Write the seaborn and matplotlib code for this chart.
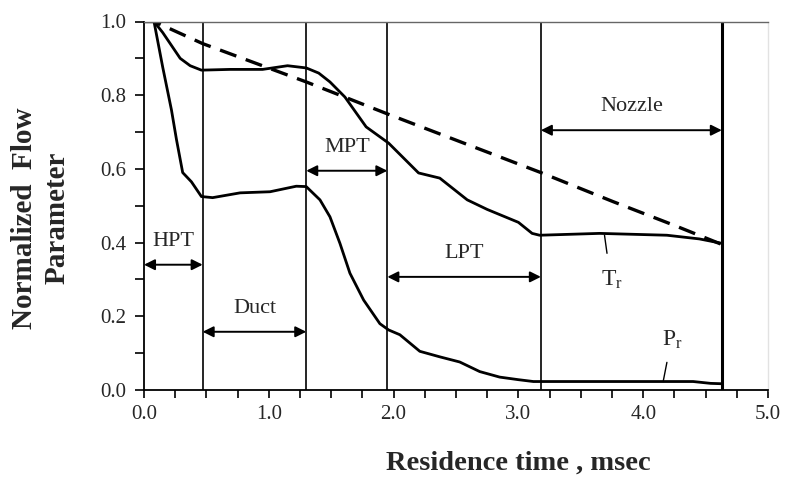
import matplotlib
matplotlib.use("Agg")
import matplotlib.pyplot as plt
import seaborn as sns
import numpy as np
import pandas as pd
from matplotlib.ticker import MultipleLocator, FormatStrFormatter

# ---------------- data ----------------
t_tr = [0.0, 0.08, 0.15, 0.21, 0.29, 0.37, 0.46, 0.69, 0.95, 1.15, 1.30, 1.40, 1.49,
        1.61, 1.78, 1.96, 2.20, 2.37, 2.59, 2.75, 3.00, 3.11, 3.17, 3.65, 4.19, 4.45, 4.63]
tr = [1.0, 1.0, 0.97, 0.94, 0.90, 0.88, 0.868, 0.87, 0.87, 0.88, 0.874, 0.86, 0.836,
      0.795, 0.714, 0.67, 0.589, 0.575, 0.516, 0.49, 0.455, 0.425, 0.42, 0.425, 0.42, 0.41, 0.398]

t_pr = [0.0, 0.08, 0.15, 0.22, 0.26, 0.31, 0.38, 0.46, 0.55, 0.77, 1.01, 1.22, 1.30,
        1.41, 1.49, 1.57, 1.65, 1.76, 1.89, 1.96, 2.05, 2.21, 2.37, 2.53, 2.69, 2.85,
        3.00, 3.12, 4.40, 4.54, 4.63]
pr = [1.0, 1.0, 0.876, 0.76, 0.68, 0.59, 0.565, 0.525, 0.522, 0.535, 0.538, 0.553, 0.552,
      0.516, 0.47, 0.398, 0.317, 0.244, 0.18, 0.163, 0.15, 0.105, 0.09, 0.076, 0.05, 0.035,
      0.028, 0.023, 0.023, 0.018, 0.017]

t_ideal = [0.0, 0.08, 0.47, 1.30, 1.96, 3.18, 3.76, 4.24, 4.63]
ideal = [1.0, 1.0, 0.94, 0.836, 0.748, 0.59, 0.511, 0.448, 0.395]

boundaries = [0.47, 1.30, 1.95, 3.18, 4.63]
sections = ["HPT", "Duct", "MPT", "LPT", "Nozzle"]
sec_start = [0.0, 0.47, 1.30, 1.95, 3.18]
sec_end = [0.47, 1.30, 1.95, 3.18, 4.63]

x_ticks = [0.0, 1.0, 2.0, 3.0, 4.0, 5.0]
y_ticks = [0.0, 0.2, 0.4, 0.6, 0.8, 1.0]

# ---------------- style ----------------
sns.set_style("ticks")
plt.rcParams["font.family"] = ["Liberation Serif", "DejaVu Serif"]
plt.rcParams["mathtext.fontset"] = "custom"
plt.rcParams["mathtext.rm"] = "Liberation Serif"
plt.rcParams["mathtext.it"] = "Liberation Serif"

fig = plt.figure(figsize=(7.85, 4.88), dpi=100)
ax = fig.add_axes([144 / 785, 1 - 390 / 488, (768 - 144) / 785, (390 - 21.5) / 488])

df_tr = pd.DataFrame({"t": t_tr, "v": tr})
df_pr = pd.DataFrame({"t": t_pr, "v": pr})
df_id = pd.DataFrame({"t": t_ideal, "v": ideal})

sns.lineplot(data=df_tr, x="t", y="v", ax=ax, color="black", lw=2.0)
sns.lineplot(data=df_pr, x="t", y="v", ax=ax, color="black", lw=2.0)
sns.lineplot(data=df_id, x="t", y="v", ax=ax, color="black", lw=2.4)
ax.lines[-1].set_linestyle((0, (5.2, 3.0)))

# section boundaries
for i, b in enumerate(boundaries):
    ax.axvline(b, ymin=0, ymax=1, color="black", lw=2.2 if i == len(boundaries) - 1 else 1.2)

# arrows and labels
arrow_y = [0.34, 0.158, 0.595, 0.307, 0.705]
for name, s, e, ay in zip(sections, sec_start, sec_end, arrow_y):
    ax.annotate("", xy=(s, ay), xytext=(e, ay),
                arrowprops=dict(arrowstyle="<|-|>", color="black", lw=1.4,
                                mutation_scale=16, shrinkA=0, shrinkB=0))
    ax.text((s + e) / 2, ay + 0.063, name, ha="center", va="center", fontsize=16)

# curve labels with leader lines
ax.plot([3.69, 3.71], [0.42, 0.371], color="black", lw=1.0)
ax.text(3.75, 0.30, r"$\mathrm{T_r}$", ha="center", va="center", fontsize=17)
ax.plot([4.19, 4.16], [0.075, 0.023], color="black", lw=1.0)
ax.text(4.23, 0.136, r"$\mathrm{P_r}$", ha="center", va="center", fontsize=17)

# axes
ax.set_xlim(0, 5)
ax.set_ylim(0, 1)
ax.set_xticks(x_ticks)
ax.set_yticks(y_ticks)
ax.xaxis.set_major_formatter(FormatStrFormatter("%.1f"))
ax.yaxis.set_major_formatter(FormatStrFormatter("%.1f"))
ax.xaxis.set_minor_locator(MultipleLocator(0.25))
ax.yaxis.set_minor_locator(MultipleLocator(0.1))
ax.tick_params(axis="x", which="both", direction="out", length=5.5, width=1.2,
               color="black", labelsize=15, pad=5)
ax.tick_params(axis="y", which="both", direction="out", length=6.5, width=1.2,
               color="black", labelsize=15, pad=6)
ax.set_xlabel("")
ax.set_ylabel("")
for side in ["left", "bottom"]:
    ax.spines[side].set_color("black")
    ax.spines[side].set_linewidth(1.3)
ax.spines["top"].set_color("#666666")
ax.spines["top"].set_linewidth(1.0)
ax.spines["right"].set_color("#e2e2e2")
ax.spines["right"].set_linewidth(1.0)
ax.spines["top"].set_visible(True)
ax.spines["right"].set_visible(True)

fig.text(518 / 785, 1 - 463 / 488, "Residence time , msec", ha="center", va="center",
         fontsize=20.5, fontweight="bold")
fig.text(41 / 785, 1 - 218 / 488, "Normalized  Flow\nParameter", ha="center", va="center",
         rotation=90, fontsize=21, fontweight="bold", multialignment="center",
         linespacing=1.25)

fig.savefig("out.png", dpi=100)
